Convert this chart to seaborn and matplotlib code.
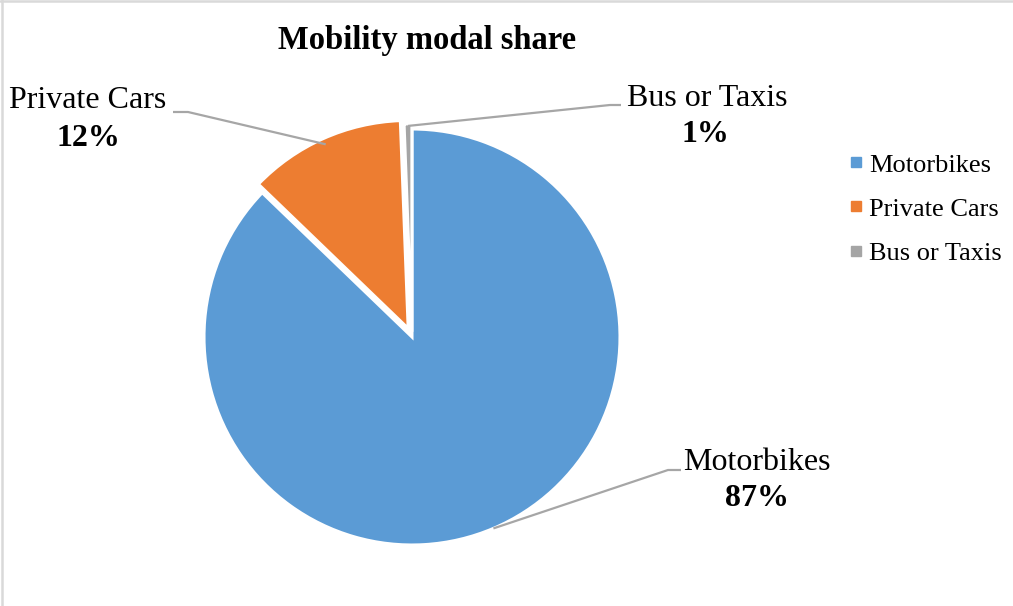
import matplotlib
matplotlib.use("Agg")
import matplotlib.pyplot as plt
import seaborn as sns
import numpy as np
from matplotlib.lines import Line2D

# ---- data ----
categories = ["Motorbikes", "Private Cars", "Bus or Taxis"]
shares = [87.2, 12.2, 0.6]
pct_labels = ["87%", "12%", "1%"]
title = "Mobility modal share"

sns.set_theme(style="white")
plt.rcParams['font.family'] = ['Liberation Serif', 'DejaVu Serif']
plt.rcParams['text.color'] = 'black'

colors = ["#5B9BD5", "#ED7D31", "#A5A5A5"]
explode = [0.0, 0.045, 0.025]

W, H = 1013, 606
fig = plt.figure(figsize=(W / 100, H / 100), dpi=100)
cx, cy, R = 412, 337, 208
ax = fig.add_axes([(cx - R) / W, (H - cy - R) / H, 2 * R / W, 2 * R / H])

wedges, _ = ax.pie(shares, colors=colors, startangle=90, counterclock=False,
                   explode=explode, radius=1,
                   wedgeprops=dict(edgecolor="white", linewidth=2.2))
ax.set_xlim(-1, 1)
ax.set_ylim(-1, 1)
ax.set_aspect("equal")
ax.axis("off")

def px2d(px, py):
    return (px - cx) / R, (cy - py) / R

# label layout (pixel positions): name center, pct center, elbow, end
layout = {
    "Private Cars": dict(name=(88, 101), pct=(88, 139), elbow=(188, 112), end=(173, 112), r=0.97),
    "Bus or Taxis": dict(name=(707, 98), pct=(705, 135), elbow=(610, 105), end=(621, 105), r=0.99),
    "Motorbikes": dict(name=(757, 462), pct=(757, 498), elbow=(668, 470), end=(681, 470), r=1.0),
}

for w, cat, pl in zip(wedges, categories, pct_labels):
    L = layout[cat]
    mid = np.deg2rad((w.theta1 + w.theta2) / 2)
    ox, oy = w.center
    ax_, ay_ = ox + L["r"] * np.cos(mid), oy + L["r"] * np.sin(mid)
    ex, ey = px2d(*L["elbow"])
    nx, ny = px2d(*L["end"])
    ax.plot([ax_, ex, nx], [ay_, ey, ny], color="#A6A6A6", lw=1.6, clip_on=False,
            solid_capstyle="butt")
    tx, ty = px2d(*L["name"])
    ax.text(tx, ty, cat, ha="center", va="center", fontsize=23, color="black")
    tx, ty = px2d(*L["pct"])
    ax.text(tx, ty, pl, ha="center", va="center", fontsize=23, fontweight="bold", color="black")

fig.text(427 / W, 1 - 40 / H, title, ha="center", va="center", fontsize=23.5,
         fontweight="bold", color="black")

handles = [Line2D([0], [0], marker="s", linestyle="none", markersize=7,
                  markerfacecolor=c, markeredgecolor=c) for c in colors]
leg = fig.legend(handles, categories, loc="center left", bbox_to_anchor=(836 / W, 1 - 209 / H),
                 frameon=False, fontsize=19, handletextpad=0.15, labelspacing=0.78,
                 borderaxespad=0, handlelength=0.7)
for t in leg.get_texts():
    t.set_color("black")

# chart border (top and left visible)
fig.add_artist(Line2D([0, 1], [1 - 0.8 / H, 1 - 0.8 / H], transform=fig.transFigure,
                      color="#D9D9D9", lw=1.8))
fig.add_artist(Line2D([1.5 / W, 1.5 / W], [0, 1], transform=fig.transFigure,
                      color="#D9D9D9", lw=1.8))

fig.savefig("out.png", dpi=100, facecolor="white")
